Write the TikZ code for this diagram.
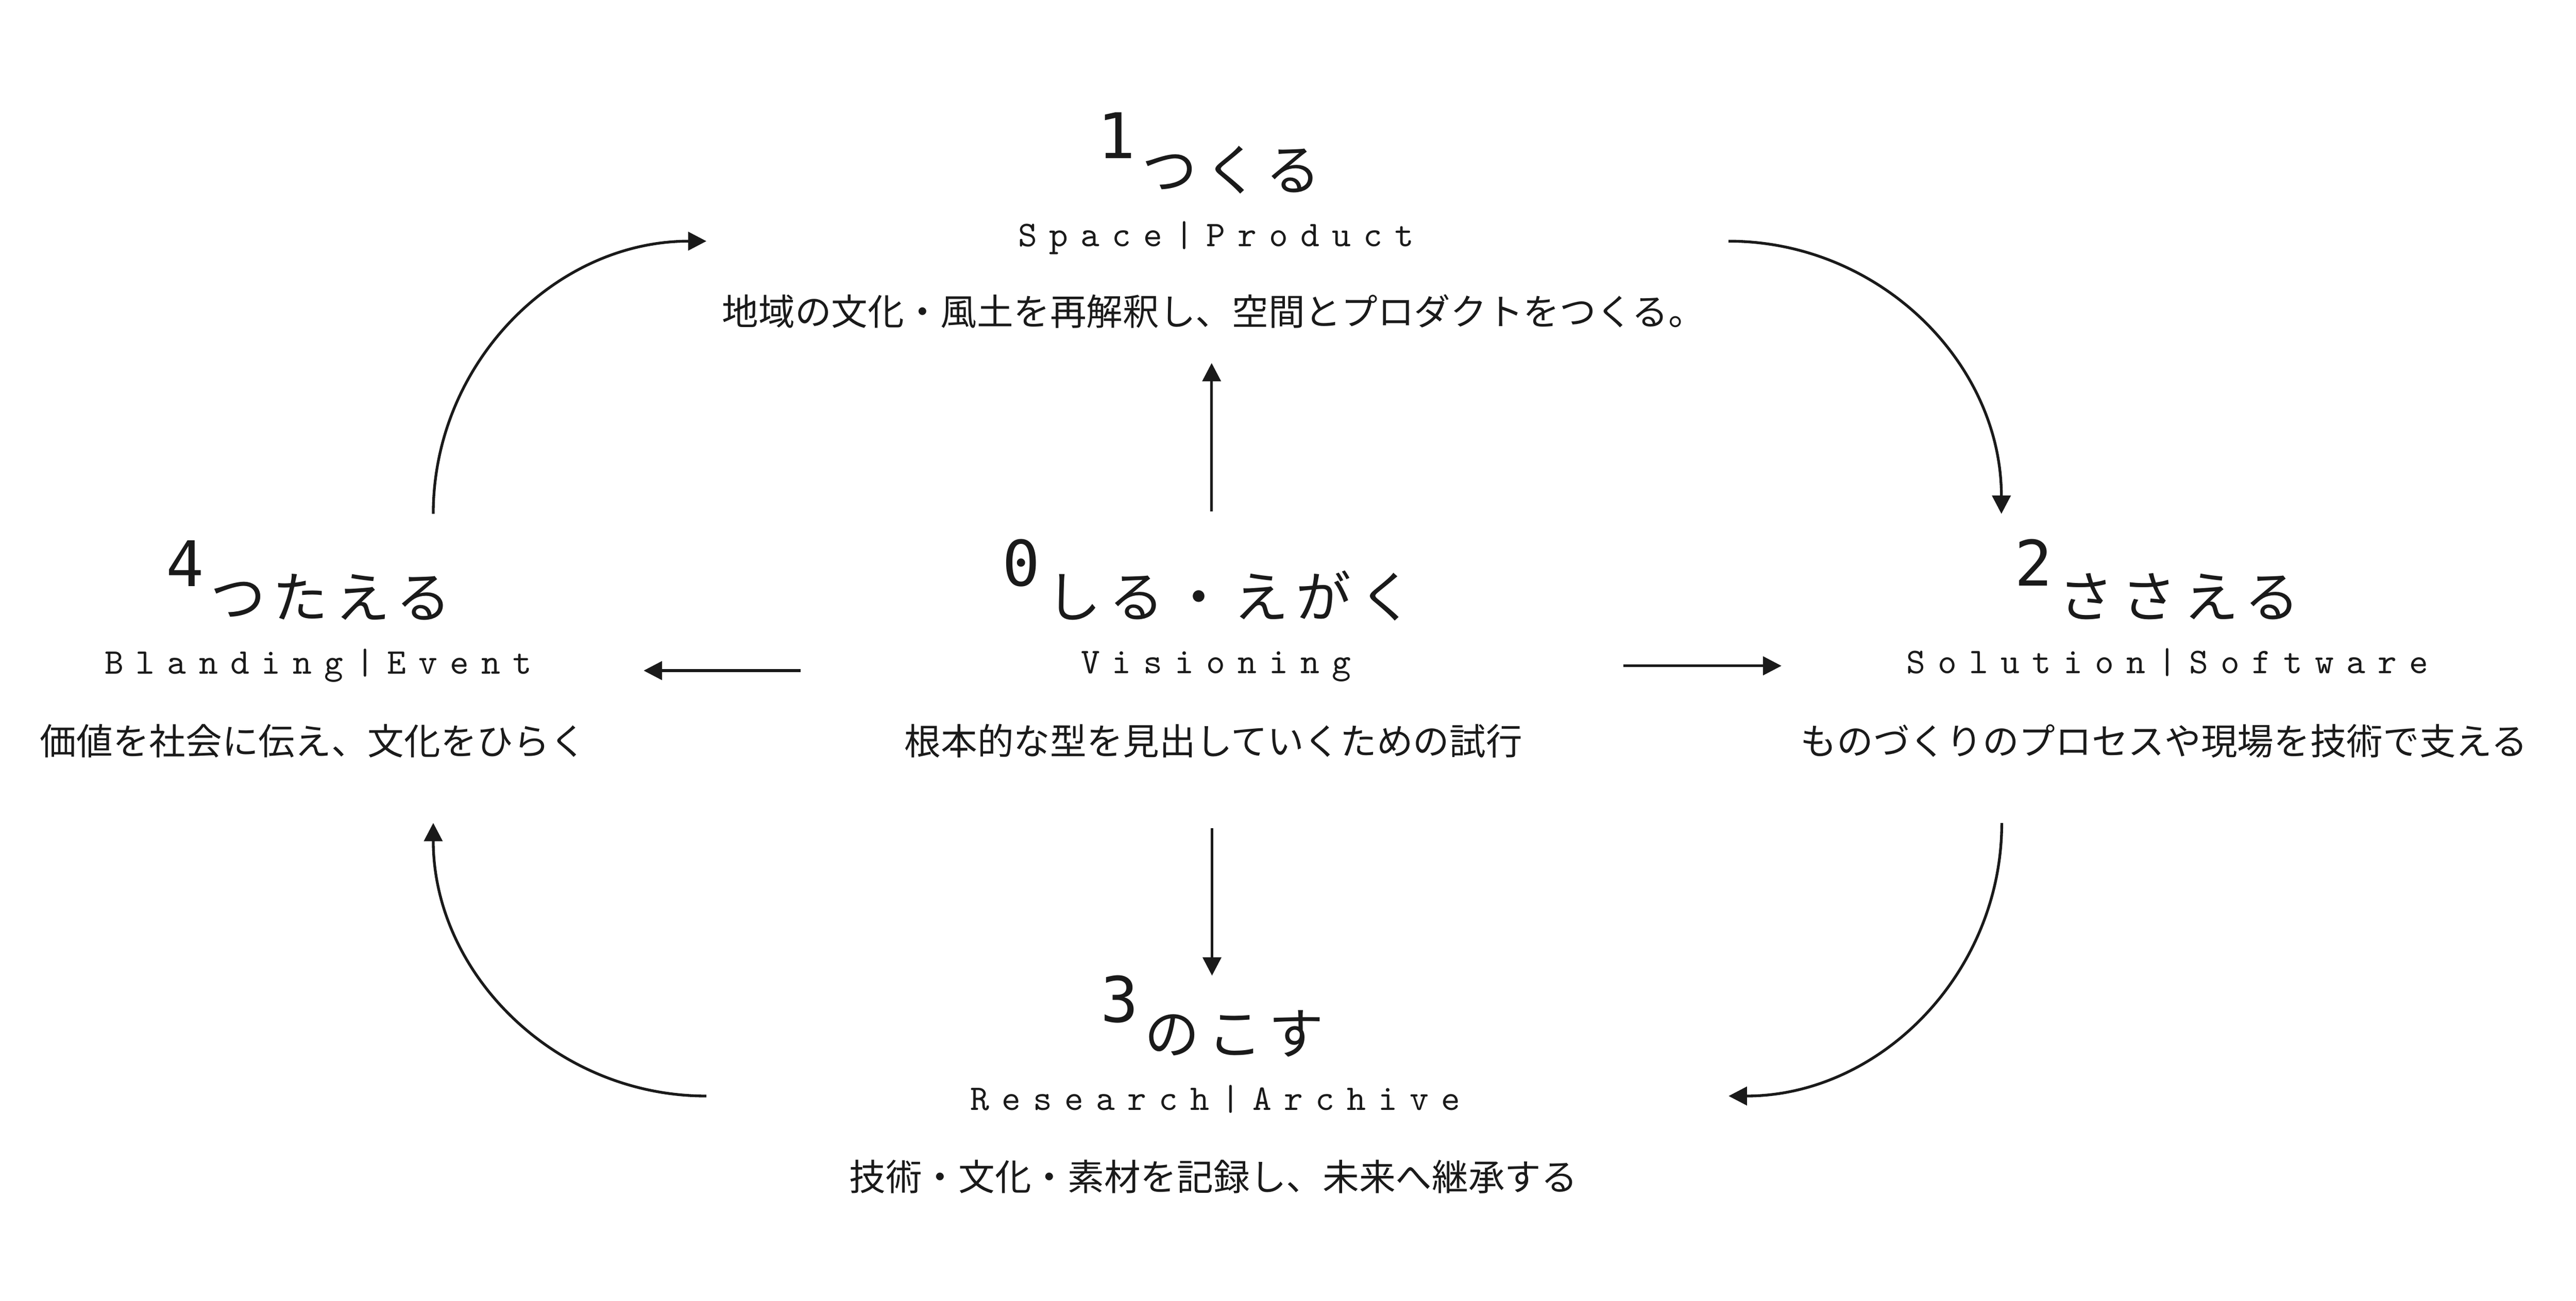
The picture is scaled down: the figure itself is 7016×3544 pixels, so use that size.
\documentclass[tikz,border=0pt]{standalone}
\usepackage{fontspec}
\usetikzlibrary{arrows.meta}
\newfontfamily\jpfont{Noto Sans CJK JP}
\newfontfamily\jptitlefont{Noto Sans CJK JP}[LetterSpace=13.3]
\newfontfamily\digitfont{DejaVu Sans Mono}
\newfontfamily\subfont{lmmono10-regular.otf}[LetterSpace=34.4]
\definecolor{ink}{RGB}{26,26,26}
\newcommand\mytitle[2]{\raisebox{0.86cm}{\digitfont\fontsize{48.7pt}{50pt}\selectfont #1}\hspace{0.17cm}{\jptitlefont\fontsize{42.7pt}{45pt}\selectfont #2}}
\tikzset{
  conn/.style={draw=ink, line width=0.075cm, -{Triangle[length=0.5cm,width=0.5cm]}},
  titlebox/.style={anchor=base west, inner sep=0pt, text=ink},
  subbox/.style={anchor=base, inner sep=0pt, text=ink, font=\subfont\fontsize{28pt}{30pt}\selectfont},
  descbox/.style={anchor=base, inner sep=0pt, text=ink, font=\jpfont\fontsize{28.2pt}{30pt}\selectfont},
}
\begin{document}
\begin{tikzpicture}[x=0.01cm, y=-0.01cm]
\useasboundingbox (0,0) rectangle (7016,3544);
\fill[white] (0,0) rectangle (7016,3544);

% titles
\node[titlebox] (t1) at (2989,518) {\mytitle{1}{つくる}};
\node[titlebox] (t0) at (2729,1682) {\mytitle{0}{しる・えがく}};
\node[titlebox] (t2) at (5486,1682) {\mytitle{2}{ささえる}};
\node[titlebox] (t4) at (452,1683) {\mytitle{4}{つたえる}};
\node[titlebox] (t3) at (2997,2871) {\mytitle{3}{のこす}};

% subtitles
\node[subbox] (s1) at (3312,671) {Space|Product};
\node[subbox] (s0) at (3312,1835) {Visioning};
\node[subbox] (s2) at (5903,1835) {Solution|Software};
\node[subbox] (s4) at (867,1836) {Blanding|Event};
\node[subbox] (s3) at (3310,3024) {Research|Archive};

% descriptions
\node[descbox] (d1) at (3305,886) {地域の文化・風土を再解釈し、空間とプロダクトをつくる。};
\node[descbox] (d0) at (3305,2056) {根本的な型を見出していくための試行};
\node[descbox] (d2) at (5894,2056) {ものづくりのプロセスや現場を技術で支える};
\node[descbox] (d4) at (853,2056) {価値を社会に伝え、文化をひらく};
\node[descbox] (d3) at (3305,3243) {技術・文化・素材を記録し、未来へ継承する};

% connector end points
\coordinate (up0) at (3300,1394);
\coordinate (up1) at (3300,989);
\coordinate (dn0) at (3301,2257);
\coordinate (dn1) at (3301,2658);
\coordinate (lf0) at (2180,1827);
\coordinate (lf1) at (1753,1827);
\coordinate (rt0) at (4422,1814);
\coordinate (rt1) at (4852,1814);

\coordinate (a4t) at (1180,1400);
\coordinate (a1l) at (1924,657);
\coordinate (a1r) at (4708,657);
\coordinate (a2t) at (5451,1400);
\coordinate (a2b) at (5452,2242);
\coordinate (a3r) at (4708,2986);
\coordinate (a3l) at (1924,2986);
\coordinate (a4b) at (1180,2242);

% straight arrows
\draw[conn] (up0) -- (up1);
\draw[conn] (dn0) -- (dn1);
\draw[conn] (lf0) -- (lf1);
\draw[conn] (rt0) -- (rt1);

% cycle arcs
\draw[conn] (a4t) .. controls +(0,-411) and +(-411,0) .. (a1l);
\draw[conn] (a1r) .. controls +(411,0) and +(0,-411) .. (a2t);
\draw[conn] (a2b) .. controls +(0,411) and +(411,0) .. (a3r);
\draw[conn] (a3l) .. controls +(-411,0) and +(0,411) .. (a4b);
\end{tikzpicture}
\end{document}
